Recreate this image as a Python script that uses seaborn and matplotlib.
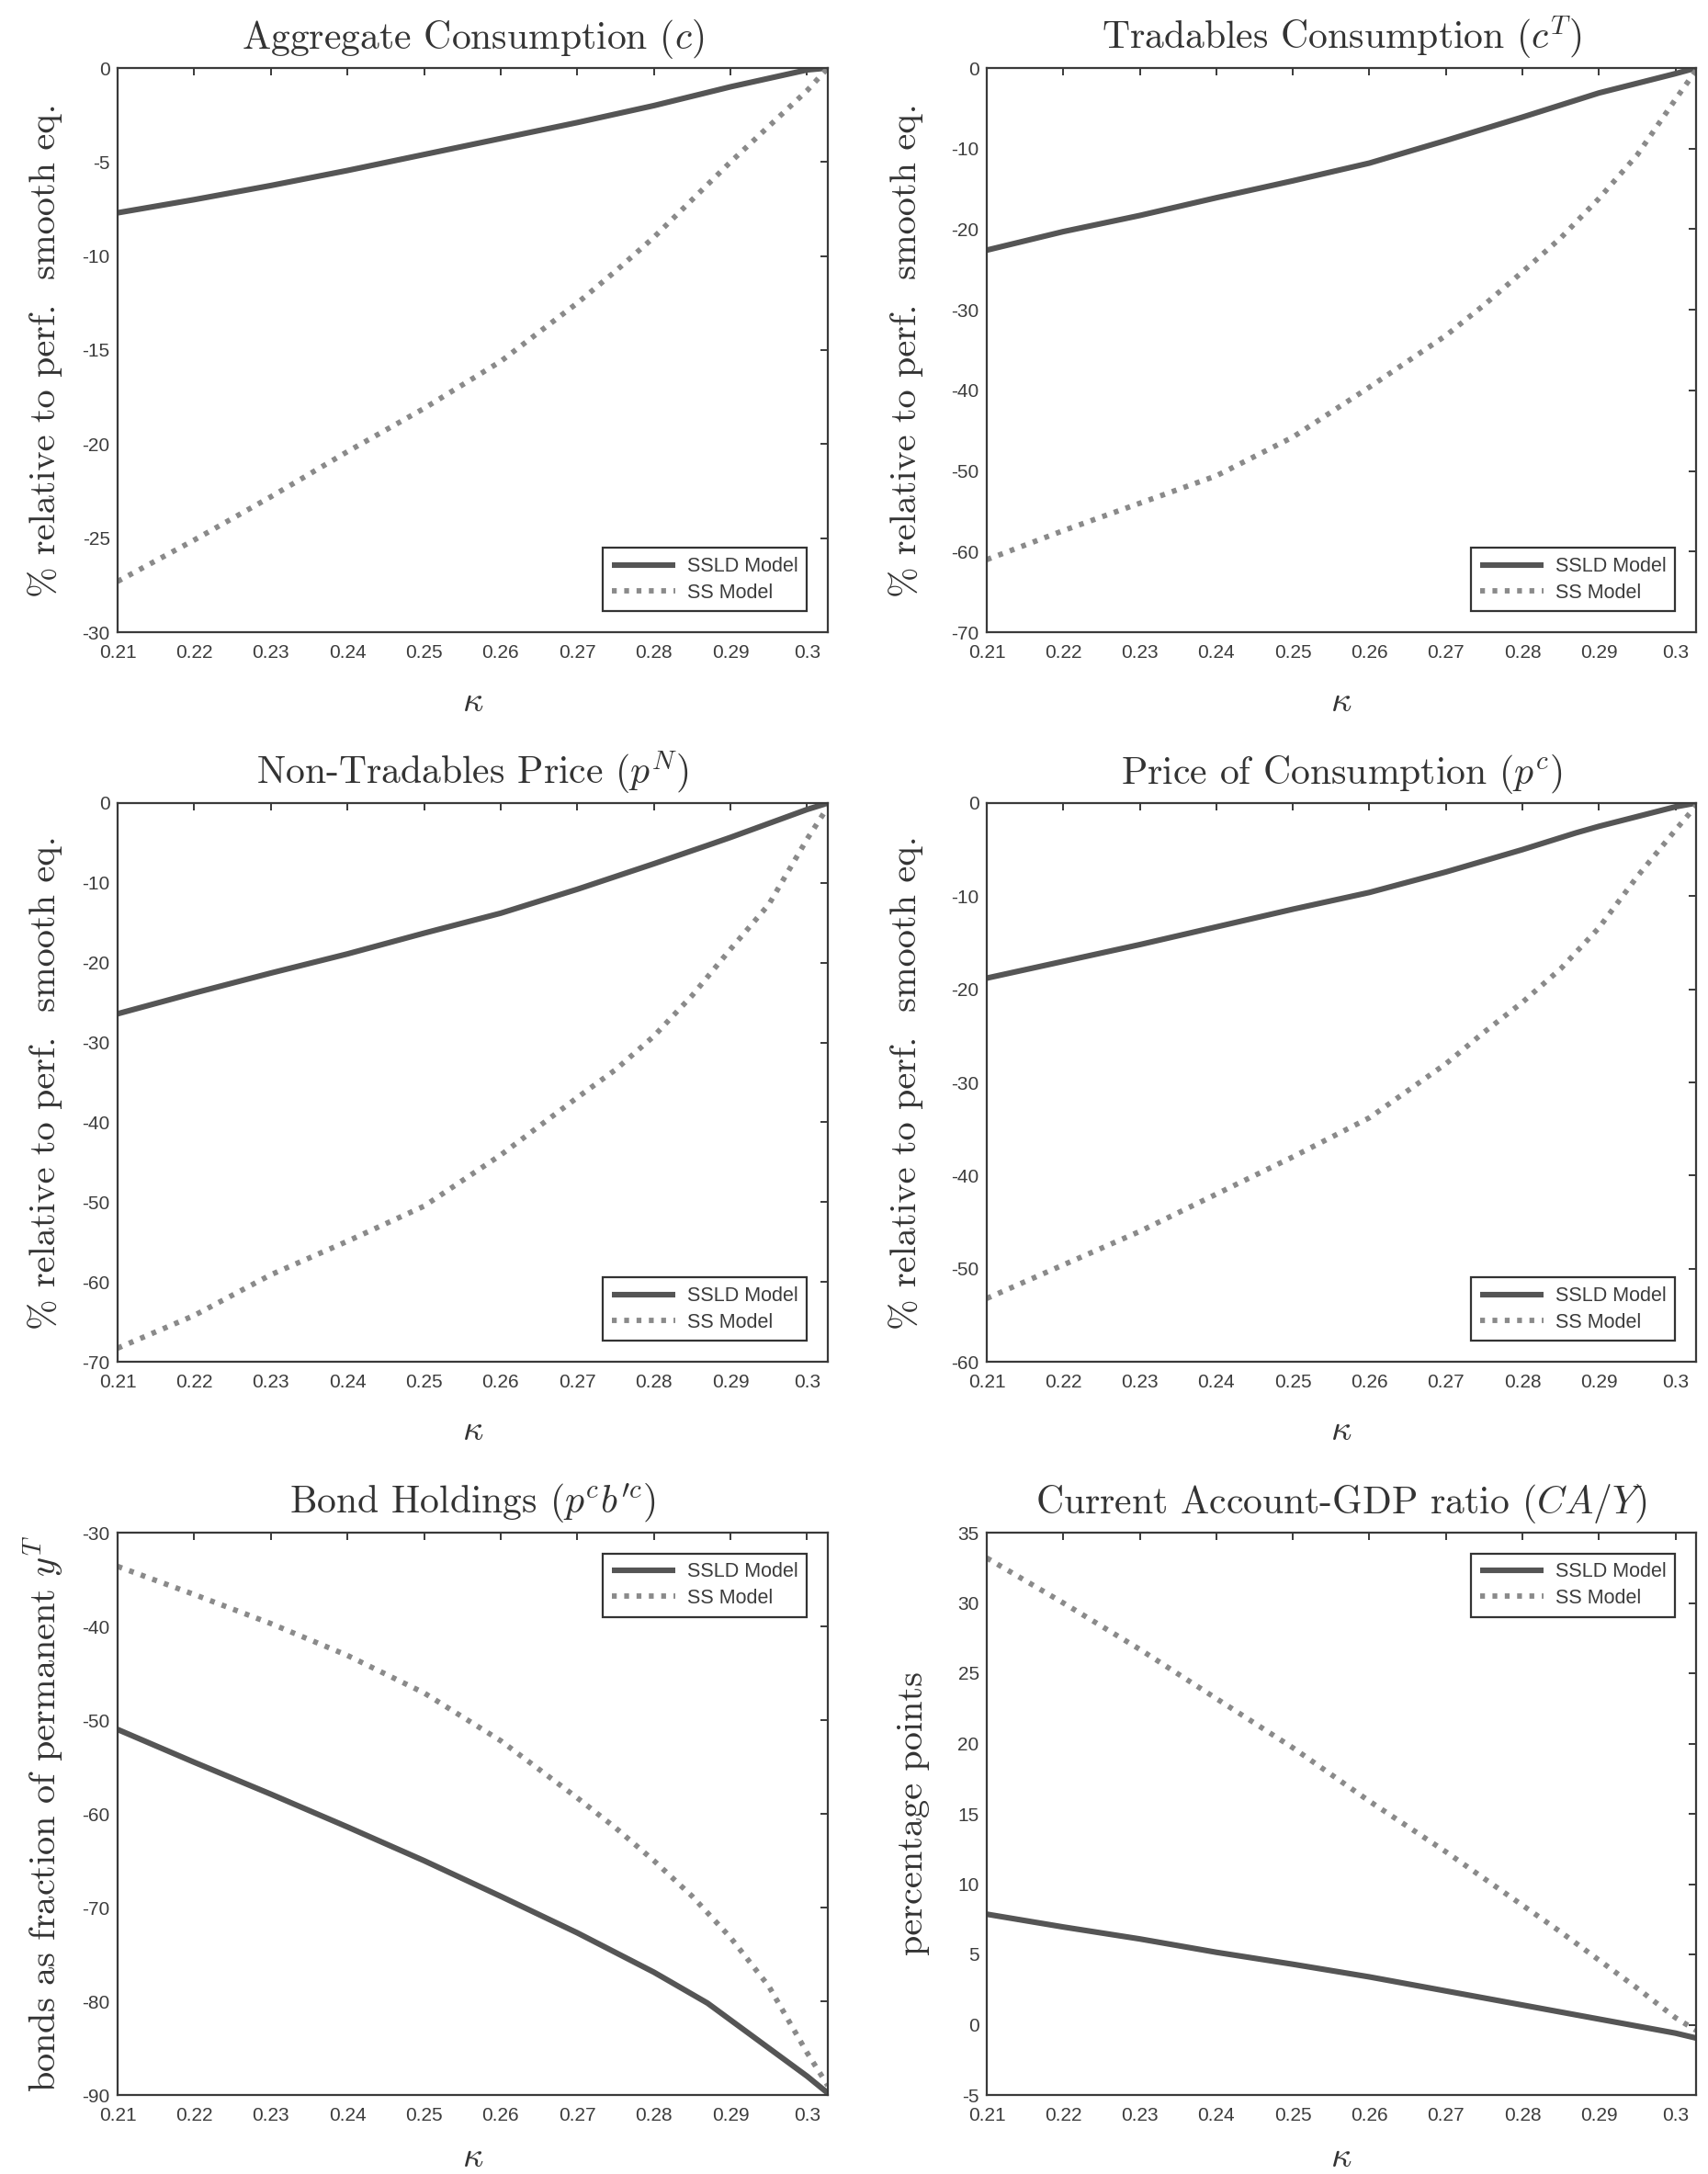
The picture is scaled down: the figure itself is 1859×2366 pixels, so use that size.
import matplotlib
matplotlib.use("Agg")
import matplotlib.pyplot as plt
import seaborn as sns
import pandas as pd
from matplotlib.ticker import FuncFormatter, MultipleLocator

# ---------------- data ----------------
kappa_sld = [0.21, 0.22, 0.23, 0.24, 0.25, 0.26, 0.27, 0.28, 0.287, 0.29, 0.30, 0.3027]
kappa_ss = [0.21, 0.22, 0.23, 0.24, 0.25, 0.26, 0.27, 0.275, 0.28, 0.285, 0.29, 0.295, 0.30, 0.3027]

agg_sld = [-7.7, -7.0, -6.25, -5.45, -4.6, -3.75, -2.9, -2.0, -1.3, -1.0, -0.1, 0.0]
agg_ss = [-27.3, -25.1, -22.8, -20.4, -18.1, -15.6, -12.5, -10.8, -9.0, -7.0, -5.0, -3.1, -1.2, 0.0]

trad_sld = [-22.6, -20.3, -18.3, -16.1, -14.0, -11.8, -9.0, -6.1, -4.0, -3.1, -0.7, 0.0]
trad_ss = [-61.0, -57.4, -54.0, -50.6, -45.8, -39.6, -33.2, -29.4, -25.3, -21.1, -16.2, -10.8, -3.9, -0.3]

pn_sld = [-26.4, -23.8, -21.3, -18.9, -16.3, -13.8, -10.8, -7.6, -5.3, -4.3, -0.8, 0.0]
pn_ss = [-68.3, -64.2, -59.1, -54.9, -50.5, -44.1, -36.9, -33.4, -29.2, -24.1, -18.3, -12.7, -4.5, -0.5]

pc_sld = [-18.8, -17.0, -15.2, -13.3, -11.4, -9.6, -7.4, -5.0, -3.2, -2.5, -0.4, 0.0]
pc_ss = [-53.2, -49.6, -46.0, -42.0, -38.0, -33.8, -28.0, -24.6, -21.4, -17.8, -13.4, -7.9, -2.9, -0.3]

bond_sld = [-51.0, -54.5, -57.9, -61.4, -65.0, -68.8, -72.7, -76.9, -80.2, -82.0, -88.0, -89.8]
bond_ss = [-33.6, -36.6, -39.7, -43.1, -47.1, -52.2, -58.3, -61.5, -65.0, -68.8, -73.2, -78.4, -85.5, -89.0]

ca_sld = [7.86, 6.95, 6.1, 5.15, 4.3, 3.4, 2.4, 1.4, 0.7, 0.4, -0.6, -0.95]
ca_ss = [33.2, 30.0, 26.7, 23.2, 19.7, 15.9, 12.3, 10.4, 8.5, 6.6, 4.6, 2.6, 0.5, -0.4]

titles = [
    r"Aggregate Consumption $(c)$",
    r"Tradables Consumption $(c^T)$",
    r"Non-Tradables Price $(p^N)$",
    r"Price of Consumption $(p^c)$",
    r"Bond Holdings $(p^c b^{\prime c})$",
    r"Current Account-GDP ratio $(CA/Y)$",
]
ylabels = [
    "% relative to perf.  smooth eq.",
    "% relative to perf.  smooth eq.",
    "% relative to perf.  smooth eq.",
    "% relative to perf.  smooth eq.",
    r"bonds as fraction of permanent $y^T$",
    "percentage points",
]
ylims = [(-30, 0), (-70, 0), (-70, 0), (-60, 0), (-90, -30), (-5, 35)]
ysteps = [5, 10, 10, 10, 10, 5]
legend_locs = ["lower right"] * 4 + ["upper right"] * 2
series_names = ["SSLD Model", "SS Model"]
sld_all = [agg_sld, trad_sld, pn_sld, pc_sld, bond_sld, ca_sld]
ss_all = [agg_ss, trad_ss, pn_ss, pc_ss, bond_ss, ca_ss]
x_ticks = [0.21, 0.22, 0.23, 0.24, 0.25, 0.26, 0.27, 0.28, 0.29, 0.30]

# ---------------- style ----------------
sns.set_theme(style="white")
plt.rcParams["mathtext.fontset"] = "cm"
plt.rcParams["axes.unicode_minus"] = False
plt.rcParams["font.family"] = ["Liberation Sans", "DejaVu Sans"]

TXT = "#333333"
AX = "#3a3a3a"
C_SLD = "#555555"
C_SS = "#8a8a8a"

W, H = 1859, 2366
fig = plt.figure(figsize=(W / 100, H / 100), dpi=100)
fig.patch.set_facecolor("white")

col_x = [(128, 901), (1074, 1846)]
row_y = [(74, 688), (874, 1482), (1668, 2280)]
ylab_x = [-0.078, -0.090, -0.078, -0.090, -0.074, -0.080]
xlab_y = [-0.094, -0.094, -0.094, -0.094, -0.082, -0.082]

for i in range(6):
    r, c = divmod(i, 2)
    x0, x1 = col_x[c]
    y0, y1 = row_y[r]
    ax = fig.add_axes([x0 / W, 1 - y1 / H, (x1 - x0) / W, (y1 - y0) / H])

    df_sld = pd.DataFrame({"kappa": kappa_sld, "value": sld_all[i]})
    df_ss = pd.DataFrame({"kappa": kappa_ss, "value": ss_all[i]})
    sns.lineplot(data=df_sld, x="kappa", y="value", ax=ax, color=C_SLD,
                 linewidth=4.4, label=series_names[0], solid_capstyle="butt",
                 solid_joinstyle="round")
    sns.lineplot(data=df_ss, x="kappa", y="value", ax=ax, color=C_SS,
                 linewidth=4.2, linestyle=(0, (0.9, 1.4)), dash_capstyle="butt",
                 label=series_names[1])

    ax.set_xlim(0.21, 0.3027)
    ax.set_ylim(*ylims[i])
    ax.set_xticks(x_ticks)
    ax.xaxis.set_major_formatter(FuncFormatter(lambda v, p: f"{v:g}"))
    ax.yaxis.set_major_locator(MultipleLocator(ysteps[i]))
    ax.yaxis.set_major_formatter(FuncFormatter(lambda v, p: f"{v:g}"))

    ax.tick_params(axis="both", which="major", direction="in", length=6,
                   width=1.4, color=AX, top=True, right=True,
                   labelsize=15, labelcolor="#3c3c3c")
    ax.tick_params(axis="x", pad=9)
    ax.tick_params(axis="y", pad=6)
    for sp in ax.spines.values():
        sp.set_visible(True)
        sp.set_color(AX)
        sp.set_linewidth(1.6)

    ax.set_title(titles[i], fontsize=30, color=TXT, fontfamily="cmr10", pad=15)
    ax.set_ylabel(ylabels[i], fontsize=29, color=TXT, fontfamily="cmr10")
    ax.yaxis.set_label_coords(ylab_x[i], 0.5)
    ax.set_xlabel(r"$\kappa$", fontsize=28, color=TXT)
    ax.xaxis.set_label_coords(0.5, xlab_y[i])

    leg = ax.legend(loc=legend_locs[i], fontsize=15.5, frameon=True, fancybox=False,
                    framealpha=1, edgecolor="#333333", handlelength=3.2,
                    handletextpad=0.6, labelspacing=0.35, borderpad=0.45,
                    borderaxespad=1.05)
    leg.get_frame().set_linewidth(1.6)
    for t in leg.get_texts():
        t.set_color("#3c3c3c")

fig.savefig("out.png", dpi=100, facecolor="white")
